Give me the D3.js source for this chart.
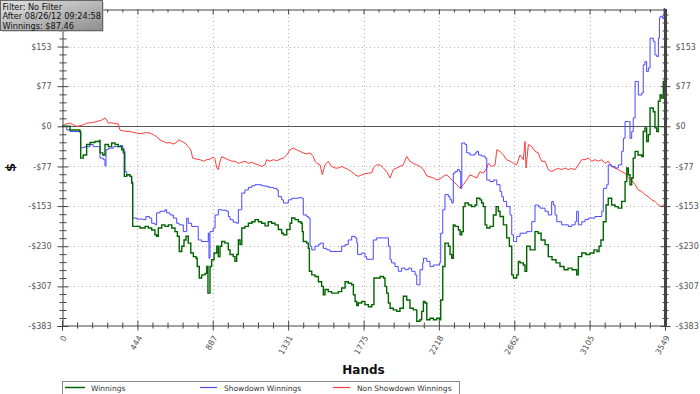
<!DOCTYPE html>
<html>
<head>
<meta charset="utf-8">
<script src="https://cdn.jsdelivr.net/npm/d3@7"></script>
<style>
  body { margin: 0; background: #fff; }
  svg text { font-family: "DejaVu Sans", Verdana, sans-serif; }
</style>
</head>
<body>
<div id="chart"></div>
<script>
// hand number / dollars
var winnings = [[0,0],[47,-7],[106,-11],[110,-61],[125,-55],[145,-35],[165,-31],[194,-29],[220,-27],[224,-51],[240,-55],[253,-35],[273,-39],[292,-32],[312,-35],[331,-39],[351,-45],[361,-51],[367,-96],[381,-93],[400,-96],[410,-109],[416,-192],[459,-195],[489,-192],[508,-195],[528,-199],[547,-208],[557,-211],[567,-195],[587,-189],[606,-192],[626,-189],[646,-195],[665,-202],[679,-211],[690,-240],[705,-230],[718,-218],[730,-211],[743,-224],[758,-243],[773,-250],[789,-253],[796,-269],[808,-291],[822,-285],[842,-282],[852,-269],[859,-320],[871,-269],[881,-256],[895,-243],[911,-230],[920,-250],[930,-230],[940,-221],[959,-224],[979,-237],[989,-246],[1008,-250],[1018,-259],[1028,-246],[1038,-218],[1048,-227],[1058,-195],[1077,-192],[1097,-186],[1117,-183],[1136,-179],[1156,-183],[1175,-186],[1195,-191],[1214,-183],[1234,-186],[1254,-189],[1273,-198],[1293,-205],[1303,-208],[1323,-198],[1342,-186],[1352,-176],[1371,-179],[1391,-183],[1407,-186],[1414,-202],[1420,-221],[1440,-224],[1450,-234],[1456,-278],[1470,-285],[1489,-288],[1509,-298],[1528,-307],[1538,-323],[1548,-313],[1567,-317],[1587,-320],[1607,-320],[1626,-317],[1646,-310],[1666,-298],[1685,-301],[1705,-304],[1715,-323],[1725,-336],[1735,-344],[1744,-339],[1764,-336],[1783,-342],[1803,-346],[1823,-342],[1836,-291],[1852,-291],[1872,-288],[1892,-291],[1901,-307],[1911,-320],[1921,-339],[1931,-349],[1950,-352],[1970,-355],[1989,-349],[2009,-326],[2029,-333],[2048,-349],[2068,-352],[2088,-374],[2107,-371],[2117,-355],[2127,-336],[2137,-339],[2147,-371],[2166,-368],[2186,-371],[2205,-368],[2221,-371],[2229,-333],[2241,-269],[2254,-224],[2274,-230],[2284,-246],[2294,-253],[2303,-189],[2313,-192],[2333,-199],[2343,-208],[2353,-202],[2362,-154],[2372,-147],[2392,-151],[2411,-154],[2431,-151],[2441,-138],[2460,-141],[2470,-147],[2480,-154],[2490,-189],[2500,-195],[2519,-192],[2539,-170],[2555,-154],[2568,-163],[2578,-173],[2598,-189],[2617,-214],[2633,-230],[2647,-285],[2657,-291],[2676,-285],[2686,-259],[2696,-262],[2715,-266],[2725,-278],[2735,-230],[2755,-237],[2784,-202],[2802,-205],[2820,-218],[2843,-227],[2862,-250],[2884,-256],[2908,-262],[2931,-269],[2955,-275],[2978,-272],[3002,-275],[3029,-285],[3039,-250],[3059,-243],[3084,-246],[3108,-243],[3131,-237],[3149,-240],[3161,-230],[3172,-218],[3186,-183],[3202,-151],[3215,-138],[3235,-151],[3255,-154],[3273,-157],[3294,-144],[3314,-106],[3324,-80],[3333,-93],[3343,-112],[3353,-99],[3362,-61],[3373,-48],[3390,-55],[3412,-58],[3421,-10],[3431,-3],[3441,-29],[3451,-16],[3461,35],[3480,28],[3490,-3],[3500,-10],[3510,48],[3520,60],[3529,54],[3539,86],[3543,64],[3549,87]];

var showdown = [[0,0],[28,-7],[47,-10],[106,-10],[110,-41],[135,-39],[165,-35],[184,-39],[214,-39],[224,-61],[243,-64],[253,-76],[259,-45],[273,-42],[302,-39],[341,-37],[357,-42],[365,-48],[371,-87],[381,-93],[400,-96],[410,-106],[416,-176],[440,-178],[479,-179],[494,-173],[514,-176],[528,-186],[547,-189],[557,-166],[577,-163],[606,-160],[616,-166],[636,-170],[655,-176],[675,-186],[690,-189],[714,-202],[734,-176],[743,-186],[763,-192],[793,-192],[802,-218],[822,-221],[852,-221],[861,-205],[865,-253],[871,-202],[890,-195],[901,-170],[920,-160],[940,-161],[969,-163],[979,-173],[989,-179],[1008,-184],[1028,-186],[1038,-160],[1048,-160],[1058,-128],[1077,-122],[1097,-117],[1117,-114],[1136,-112],[1175,-114],[1195,-115],[1214,-117],[1244,-119],[1264,-122],[1273,-135],[1293,-141],[1303,-147],[1323,-147],[1332,-141],[1352,-138],[1391,-137],[1414,-138],[1420,-170],[1440,-173],[1450,-176],[1460,-230],[1470,-237],[1489,-230],[1509,-227],[1519,-224],[1538,-234],[1558,-237],[1577,-240],[1626,-240],[1646,-230],[1666,-227],[1685,-218],[1705,-211],[1725,-214],[1735,-224],[1740,-246],[1764,-243],[1783,-250],[1793,-255],[1823,-255],[1832,-218],[1852,-214],[1911,-214],[1921,-230],[1931,-256],[1940,-262],[1960,-269],[1979,-278],[1999,-272],[2019,-275],[2038,-272],[2058,-278],[2078,-285],[2088,-304],[2098,-304],[2107,-275],[2123,-262],[2127,-253],[2147,-259],[2166,-269],[2186,-266],[2221,-262],[2229,-205],[2241,-160],[2254,-131],[2274,-135],[2284,-141],[2294,-147],[2303,-90],[2313,-87],[2327,-83],[2339,-87],[2347,-119],[2353,-32],[2372,-35],[2382,-51],[2401,-55],[2431,-51],[2441,-48],[2451,-55],[2470,-57],[2490,-61],[2500,-103],[2519,-106],[2539,-103],[2559,-112],[2578,-125],[2588,-135],[2598,-144],[2617,-154],[2637,-170],[2647,-208],[2657,-221],[2676,-211],[2696,-205],[2735,-202],[2755,-202],[2765,-183],[2784,-151],[2804,-154],[2814,-157],[2843,-163],[2862,-170],[2882,-144],[2892,-151],[2902,-170],[2912,-183],[2941,-189],[2980,-192],[3000,-189],[3020,-183],[3029,-163],[3039,-189],[3059,-183],[3078,-179],[3098,-176],[3137,-173],[3177,-163],[3186,-119],[3206,-112],[3215,-74],[3235,-77],[3255,-80],[3274,-74],[3294,-48],[3304,-23],[3314,9],[3333,9],[3343,-23],[3353,-10],[3362,16],[3373,86],[3392,60],[3412,64],[3421,118],[3431,124],[3441,105],[3451,112],[3461,169],[3480,163],[3490,137],[3500,134],[3510,169],[3516,207],[3520,211],[3534,207],[3543,226],[3549,225]];

var nonShowdown = [[0,0],[28,5],[47,6],[67,3],[86,0],[106,1],[125,3],[145,6],[175,7],[204,9],[234,12],[253,16],[263,12],[273,6],[292,7],[312,5],[331,5],[341,-7],[361,-9],[400,-10],[440,-13],[459,-14],[499,-12],[518,-13],[537,-16],[557,-20],[577,-26],[596,-29],[616,-32],[636,-31],[655,-34],[675,-31],[685,-26],[705,-29],[724,-32],[743,-39],[758,-45],[769,-61],[793,-63],[812,-64],[832,-67],[852,-64],[871,-63],[890,-59],[901,-64],[911,-80],[920,-83],[930,-67],[940,-58],[959,-61],[979,-64],[999,-67],[1018,-67],[1038,-71],[1058,-69],[1077,-67],[1097,-71],[1117,-69],[1136,-72],[1156,-74],[1175,-77],[1195,-74],[1205,-64],[1224,-67],[1244,-64],[1264,-66],[1283,-63],[1303,-61],[1323,-55],[1342,-45],[1361,-42],[1381,-45],[1401,-48],[1420,-51],[1440,-53],[1460,-51],[1479,-58],[1489,-67],[1499,-71],[1519,-74],[1532,-93],[1548,-74],[1567,-67],[1587,-77],[1607,-80],[1626,-80],[1646,-77],[1666,-80],[1685,-83],[1705,-87],[1725,-93],[1744,-96],[1764,-93],[1783,-91],[1803,-90],[1823,-89],[1832,-80],[1852,-74],[1872,-74],[1892,-80],[1911,-87],[1931,-99],[1950,-83],[1970,-80],[1989,-77],[2009,-74],[2029,-58],[2048,-67],[2068,-71],[2088,-74],[2107,-77],[2127,-83],[2147,-95],[2166,-97],[2186,-99],[2205,-103],[2225,-101],[2244,-96],[2264,-93],[2284,-99],[2303,-106],[2323,-112],[2343,-119],[2362,-112],[2382,-103],[2401,-93],[2421,-96],[2441,-99],[2460,-87],[2480,-90],[2500,-80],[2509,-71],[2529,-77],[2549,-74],[2559,-45],[2578,-48],[2598,-55],[2617,-64],[2637,-67],[2657,-71],[2676,-74],[2696,-55],[2715,-64],[2725,-29],[2731,-80],[2745,-35],[2765,-39],[2784,-48],[2804,-51],[2814,-61],[2823,-67],[2843,-67],[2862,-83],[2882,-87],[2902,-83],[2921,-81],[2941,-83],[2961,-80],[2980,-83],[3000,-81],[3020,-83],[3039,-74],[3059,-64],[3078,-64],[3098,-61],[3118,-67],[3137,-64],[3157,-67],[3177,-64],[3196,-71],[3215,-67],[3235,-77],[3255,-80],[3274,-83],[3294,-87],[3314,-90],[3333,-99],[3353,-103],[3373,-112],[3392,-122],[3412,-125],[3431,-131],[3451,-135],[3471,-141],[3490,-144],[3510,-151],[3529,-154],[3549,-148]];

var handTicks = [0, 444, 887, 1331, 1775, 2218, 2662, 3105, 3549];
var dollarTicks = [-383, -307, -230, -153, -77, 0, 77, 153];
var seriesNames = ["Winnings", "Showdown Winnings", "Non Showdown Winnings"];
var seriesColors = ["#006400", "#4848ff", "#ff3a3a"];
var infoLines = ["Filter: No Filter", "After 08/26/12 09:24:58", "Winnings: $87.46"];

render();

function render() {
  var width = 700, height = 394;
  var left = 62, right = 665, top = 9, bottom = 326;

  var svg = d3.select("#chart").append("svg")
    .attr("width", width)
    .attr("height", height);

  var xScale = d3.scaleLinear().domain([0, 3549]).range([left, right]);
  var yScale = d3.scaleLinear().domain([-383, 225]).range([bottom, top]);

  var xStep = 3549 / 8, yStep = 383 / 5;
  var xMinor = d3.range(0, 3549, xStep / 5).filter(function (v) { return v % xStep > 1 && xStep - v % xStep > 1; });
  var yMinor = d3.range(-383, 225, yStep / 5).filter(function (v) {
    var r = Math.abs((v + 383) % yStep);
    return r > 1 && yStep - r > 1;
  });

  // grid
  svg.append("g").selectAll("line").data(handTicks.slice(1, -1)).enter().append("line")
    .attr("x1", function (d) { return Math.round(xScale(d)) + 0.5; })
    .attr("x2", function (d) { return Math.round(xScale(d)) + 0.5; })
    .attr("y1", top).attr("y2", bottom)
    .attr("stroke", "#b4b4b4").attr("stroke-dasharray", "1,3");
  svg.append("g").selectAll("line").data(dollarTicks.filter(function (d) { return d != 0 && d != -383; })).enter().append("line")
    .attr("y1", function (d) { return Math.round(yScale(d)) + 0.5; })
    .attr("y2", function (d) { return Math.round(yScale(d)) + 0.5; })
    .attr("x1", left).attr("x2", right)
    .attr("stroke", "#b4b4b4").attr("stroke-dasharray", "1,3");
  svg.append("line")
    .attr("x1", left).attr("x2", right)
    .attr("y1", Math.round(yScale(0)) + 0.5).attr("y2", Math.round(yScale(0)) + 0.5)
    .attr("stroke", "#555");

  var stepLine = d3.line()
    .x(function (d) { return xScale(d[0]); })
    .y(function (d) { return yScale(d[1]); })
    .curve(d3.curveStepAfter);
  var plainLine = d3.line()
    .x(function (d) { return xScale(d[0]); })
    .y(function (d) { return yScale(d[1]); });

  svg.append("path").datum(nonShowdown)
    .attr("fill", "none").attr("stroke", seriesColors[2]).attr("stroke-width", 1)
    .attr("d", plainLine);
  svg.append("path").datum(showdown)
    .attr("fill", "none").attr("stroke", seriesColors[1]).attr("stroke-width", 1)
    .attr("d", stepLine);
  svg.append("path").datum(winnings)
    .attr("fill", "none").attr("stroke", seriesColors[0]).attr("stroke-width", 1.4)
    .attr("d", stepLine);

  var fmt = function (d) { return (d < 0 ? "-$" : "$") + Math.abs(d); };

  // axes with ticks crossing the line
  function ticks(g, axis, size) {
    g.call(axis.tickSize(size).tickFormat(""));
    g.select(".domain").remove();
    g.selectAll("line").attr("stroke", "#444");
  }

  var gl = svg.append("g").attr("transform", "translate(" + (left + 0.5) + ",0)");
  gl.call(d3.axisLeft(yScale).tickValues(dollarTicks).tickSize(5).tickPadding(6).tickFormat(fmt));
  gl.select(".domain").attr("stroke", "#444");
  gl.selectAll("line").attr("stroke", "#444");
  ticks(gl.append("g"), d3.axisRight(yScale).tickValues(dollarTicks), 6);
  ticks(gl.append("g"), d3.axisLeft(yScale).tickValues(yMinor), 3);
  ticks(gl.append("g"), d3.axisRight(yScale).tickValues(yMinor), 4);

  var gr = svg.append("g").attr("transform", "translate(" + (right + 0.5) + ",0)");
  gr.append("line").attr("y1", top).attr("y2", bottom).attr("stroke", "#c4c4c4").attr("stroke-width", 3);
  gr.call(d3.axisRight(yScale).tickValues(dollarTicks).tickSize(5).tickPadding(5).tickFormat(fmt));
  gr.select(".domain").remove();
  gr.selectAll("line").attr("stroke", "#444");
  ticks(gr.append("g"), d3.axisLeft(yScale).tickValues(dollarTicks), 5);
  ticks(gr.append("g"), d3.axisLeft(yScale).tickValues(yMinor), 3);
  ticks(gr.append("g"), d3.axisRight(yScale).tickValues(yMinor), 3);

  var gb = svg.append("g").attr("transform", "translate(0," + (bottom - 0.5) + ")");
  gb.call(d3.axisBottom(xScale).tickValues(handTicks).tickSize(5).tickFormat(""));
  gb.select(".domain").attr("stroke", "#444");
  gb.selectAll("line").attr("stroke", "#444");
  ticks(gb.append("g"), d3.axisTop(xScale).tickValues(handTicks), 5);
  ticks(gb.append("g"), d3.axisTop(xScale).tickValues(xMinor), 3);
  ticks(gb.append("g"), d3.axisBottom(xScale).tickValues(xMinor), 3);
  gb.selectAll(".xlabel").data(handTicks).enter().append("text")
    .attr("class", "xlabel")
    .attr("transform", function (d) { return "translate(" + (xScale(d) + 5) + ",12) rotate(-60)"; })
    .attr("text-anchor", "end")
    .attr("font-size", "8px")
    .attr("fill", "#555")
    .text(function (d) { return d; });

  var gt = svg.append("g").attr("transform", "translate(0," + (top + 0.5) + ")");
  gt.call(d3.axisBottom(xScale).tickValues(xMinor).tickSize(3).tickFormat(""));
  gt.select(".domain").attr("stroke", "#444");
  gt.selectAll("line").attr("stroke", "#444");
  ticks(gt.append("g"), d3.axisBottom(xScale).tickValues(handTicks), 5);

  svg.selectAll(".tick text").attr("font-size", "8px").attr("fill", "#555")
    .attr("font-family", "DejaVu Sans, Verdana, sans-serif");

  // axis titles
  svg.append("text")
    .attr("x", (left + right) / 2).attr("y", 374)
    .attr("text-anchor", "middle")
    .attr("font-size", "12px").attr("font-weight", "bold").attr("fill", "#111")
    .text("Hands");
  svg.append("text")
    .attr("transform", "translate(15," + ((top + bottom) / 2) + ") rotate(-90)")
    .attr("text-anchor", "middle")
    .attr("font-size", "13px").attr("font-weight", "bold").attr("fill", "#111")
    .text("$");

  // legend
  var legend = svg.append("g").attr("transform", "translate(62,381)");
  legend.append("rect")
    .attr("x", 0.5).attr("y", 0.5).attr("width", 397).attr("height", 20)
    .attr("fill", "#fff").attr("stroke", "#888");
  var item = legend.selectAll(".item").data(seriesNames).enter().append("g")
    .attr("class", "item")
    .attr("transform", function (d, i) { return "translate(" + (i * 133) + ",0)"; });
  item.append("line")
    .attr("x1", function (d) { return seriesNames.indexOf(d) == 0 ? 3 : 5; })
    .attr("x2", function (d) { return seriesNames.indexOf(d) == 0 ? 23 : 22; })
    .attr("y1", 6.5).attr("y2", 6.5)
    .attr("stroke", function (d) { return seriesColors[seriesNames.indexOf(d)]; })
    .attr("stroke-width", function (d) { return seriesNames.indexOf(d) == 0 ? 1.5 : 1.2; });
  item.append("text")
    .attr("x", 29).attr("y", 9.5)
    .attr("font-size", "7.5px").attr("fill", "#333")
    .text(function (d) { return d; });

  // info box
  var defs = svg.append("defs");
  var grad = defs.append("linearGradient").attr("id", "infoGrad")
    .attr("x1", "0").attr("y1", "0").attr("x2", "1").attr("y2", "1");
  grad.append("stop").attr("offset", "0").attr("stop-color", "#e4e4e4");
  grad.append("stop").attr("offset", "1").attr("stop-color", "#8e8e8e");
  svg.append("rect")
    .attr("x", 2).attr("y", 2).attr("width", 102).attr("height", 30)
    .attr("fill", "#bbb").attr("opacity", 0.6);
  svg.append("rect")
    .attr("x", 0.5).attr("y", 0.5).attr("width", 102).attr("height", 30)
    .attr("fill", "url(#infoGrad)").attr("stroke", "#666");
  svg.append("g").selectAll("text").data(infoLines).enter().append("text")
    .attr("x", 2.5).attr("y", function (d, i) { return 9.5 + i * 9.5; })
    .attr("font-size", "8.2px").attr("fill", "#111")
    .text(function (d) { return d; });
}
</script>
</body>
</html>
